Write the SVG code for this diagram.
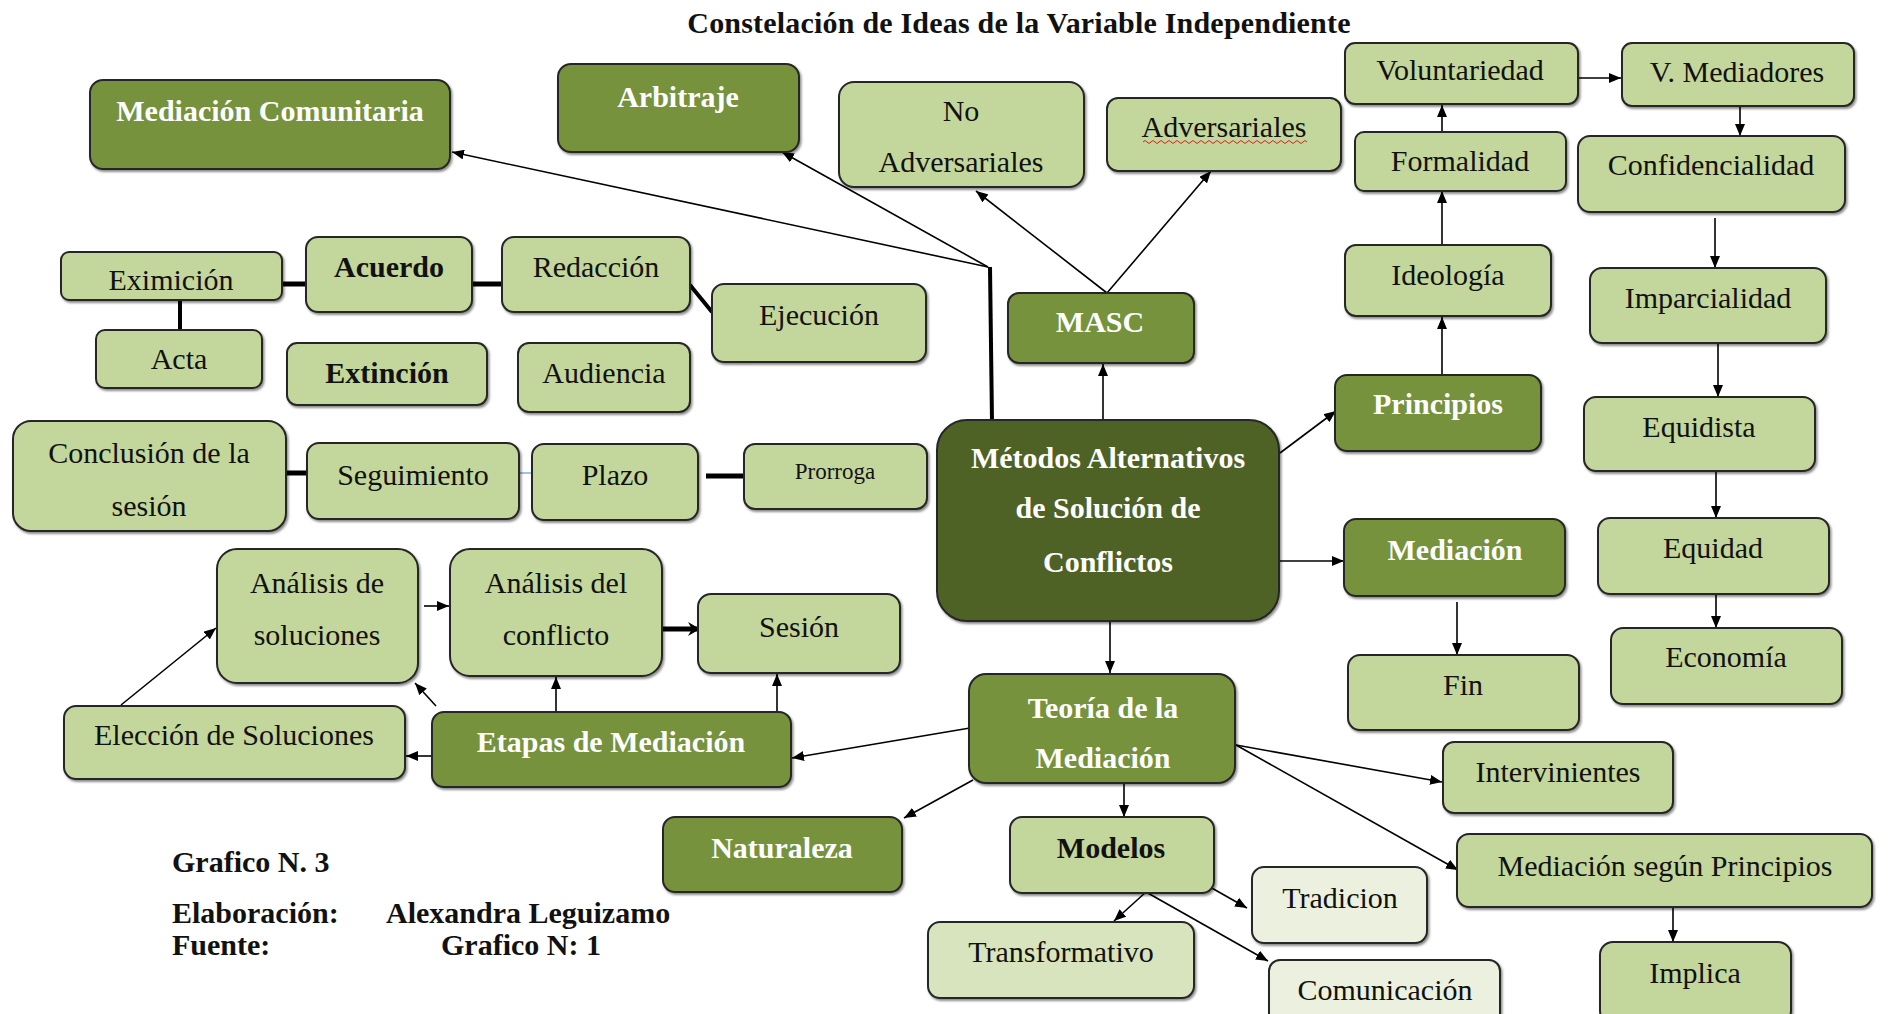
<svg xmlns="http://www.w3.org/2000/svg" width="1890" height="1014" viewBox="0 0 1890 1014">
<defs>
<style>
.b{stroke:#262626;stroke-width:2;filter:url(#sh)}
.dk{fill:#4f6228}.md{fill:#76923c}.lt{fill:#c3d69b}.l2{fill:#d7e4bd}.vl{fill:#ebf1de}
text{font-family:'Liberation Serif','Times New Roman',serif;font-size:30px;text-anchor:middle;fill:#111}
.w{fill:#ffffff;font-weight:bold}
.bd{font-weight:bold}
.ttl{font-weight:bold;font-size:30px;letter-spacing:0.2px}
.ft{font-weight:bold;font-size:30px;text-anchor:start}
.c{stroke:#000;stroke-width:1.6;fill:none}
.a{marker-end:url(#ar)}
.k{stroke:#000;stroke-width:5;fill:none}
</style>
<filter id="sh" x="-10%" y="-10%" width="125%" height="130%">
<feDropShadow dx="1.5" dy="2" stdDeviation="1.2" flood-color="#000" flood-opacity="0.45"/>
</filter>
<marker id="ar" viewBox="0 0 12 10" refX="12" refY="5" markerWidth="12" markerHeight="10" markerUnits="userSpaceOnUse" orient="auto">
<path d="M0,0 L12,5 L0,10 z" fill="#000"/>
</marker>
<marker id="ak" viewBox="0 0 12 14" refX="10" refY="7" markerWidth="12" markerHeight="14" markerUnits="userSpaceOnUse" orient="auto">
<path d="M0,0 L12,7 L0,14 L4,7 z" fill="#000"/>
</marker>
</defs>
<rect width="1890" height="1014" fill="#ffffff"/>
<text class="ttl" x="1019" y="33">Constelación de Ideas de la Variable Independiente</text>

<g id="connectors">
<line class="c a" x1="988" y1="267" x2="452" y2="152"/>
<line class="c a" x1="988" y1="267" x2="782" y2="152"/>
<line x1="990" y1="267" x2="992" y2="422" stroke="#000" stroke-width="4"/>
<line class="c a" x1="1107" y1="293" x2="976" y2="191"/>
<line class="c a" x1="1107" y1="293" x2="1211" y2="171"/>
<line class="c a" x1="1103" y1="421" x2="1103" y2="364"/>
<line class="c a" x1="1280" y1="453" x2="1336" y2="411"/>
<line class="c a" x1="1442" y1="375" x2="1442" y2="317"/>
<line class="c a" x1="1442" y1="245" x2="1442" y2="191"/>
<line class="c a" x1="1442" y1="132" x2="1442" y2="105"/>
<line class="c a" x1="1578" y1="78" x2="1621" y2="78"/>
<line class="c a" x1="1740" y1="106" x2="1740" y2="136"/>
<line class="c a" x1="1715" y1="218" x2="1715" y2="268"/>
<line class="c a" x1="1718" y1="344" x2="1718" y2="397"/>
<line class="c a" x1="1716" y1="471" x2="1716" y2="518"/>
<line class="c a" x1="1716" y1="594" x2="1716" y2="628"/>
<line class="c a" x1="1279" y1="561" x2="1344" y2="561"/>
<line class="c a" x1="1457" y1="602" x2="1457" y2="655"/>
<line class="c a" x1="1110" y1="621" x2="1110" y2="673"/>
<line class="c a" x1="1236" y1="745" x2="1442" y2="782"/>
<line class="c a" x1="1236" y1="745" x2="1458" y2="870"/>
<line class="c a" x1="1124" y1="783" x2="1124" y2="817"/>
<line class="c a" x1="973" y1="780" x2="904" y2="818"/>
<line class="c a" x1="970" y1="728" x2="792" y2="758"/>
<line class="c a" x1="1146" y1="892" x2="1114" y2="921"/>
<line class="c a" x1="1146" y1="892" x2="1268" y2="961"/>
<line class="c a" x1="1210" y1="887" x2="1247" y2="908"/>
<line class="c a" x1="1673" y1="907" x2="1673" y2="942"/>
<line class="c a" x1="432" y1="756" x2="406" y2="756"/>
<line class="c a" x1="436" y1="706" x2="415" y2="683"/>
<line class="c a" x1="556" y1="712" x2="556" y2="677"/>
<line class="c a" x1="777" y1="712" x2="777" y2="674"/>
<line class="c a" x1="121" y1="705" x2="216" y2="628"/>
<line class="c a" x1="424" y1="606" x2="449" y2="606"/>
<line x1="663" y1="629" x2="698" y2="629" stroke="#000" stroke-width="5" marker-end="url(#ak)"/>
<line class="k" x1="286" y1="473" x2="308" y2="473"/>
<line x1="519" y1="473" x2="532" y2="473" stroke="#4f81bd" stroke-width="1"/>
<line class="k" x1="706" y1="476" x2="744" y2="476"/>
<line class="k" x1="282" y1="284" x2="306" y2="284"/>
<line class="k" x1="472" y1="284" x2="502" y2="284"/>
<line x1="690" y1="285" x2="712" y2="312" stroke="#000" stroke-width="4"/>
<line x1="180" y1="300" x2="180" y2="331" stroke="#000" stroke-width="4"/>
</g>

<g id="n-medcom"><rect class="b md" x="90" y="80" width="360" height="89" rx="13"/><text class="w" x="270" y="121">Mediación Comunitaria</text></g>
<g id="n-arbitraje"><rect class="b md" x="558" y="64" width="241" height="88" rx="13"/><text class="w" x="678" y="107">Arbitraje</text></g>
<g id="n-noadv"><rect class="b lt" x="839" y="82" width="245" height="105" rx="15"/><text x="961" y="121">No</text><text x="961" y="172">Adversariales</text></g>
<g id="n-adv"><rect class="b lt" x="1107" y="98" width="234" height="73" rx="11"/><text x="1224" y="137">Adversariales</text><path d="M1143,142 q2,-3 4,0 t4,0 t4,0 t4,0 t4,0 t4,0 t4,0 t4,0 t4,0 t4,0 t4,0 t4,0 t4,0 t4,0 t4,0 t4,0 t4,0 t4,0 t4,0 t4,0 t4,0 t4,0 t4,0 t4,0 t4,0 t4,0 t4,0 t4,0 t4,0 t4,0 t4,0 t4,0 t4,0 t4,0 t4,0 t4,0 t4,0 t4,0 t4,0 t4,0 t4,0" fill="none" stroke="#e02020" stroke-width="1"/></g>
<g id="n-volun"><rect class="b lt" x="1345" y="43" width="233" height="61" rx="10"/><text x="1460" y="80">Voluntariedad</text></g>
<g id="n-vmed"><rect class="b lt" x="1622" y="43" width="232" height="63" rx="10"/><text x="1737" y="82">V. Mediadores</text></g>
<g id="n-formal"><rect class="b lt" x="1355" y="132" width="211" height="59" rx="9"/><text x="1460" y="171">Formalidad</text></g>
<g id="n-confid"><rect class="b lt" x="1578" y="136" width="267" height="76" rx="12"/><text x="1711" y="175">Confidencialidad</text></g>
<g id="n-ideol"><rect class="b lt" x="1345" y="245" width="206" height="71" rx="11"/><text x="1448" y="285">Ideología</text></g>
<g id="n-impar"><rect class="b lt" x="1590" y="268" width="236" height="75" rx="12"/><text x="1708" y="308">Imparcialidad</text></g>
<g id="n-princ"><rect class="b md" x="1335" y="375" width="206" height="76" rx="12"/><text class="w" x="1438" y="414">Principios</text></g>
<g id="n-equidista"><rect class="b lt" x="1584" y="397" width="231" height="74" rx="12"/><text x="1699" y="437">Equidista</text></g>
<g id="n-masc"><rect class="b md" x="1008" y="293" width="186" height="70" rx="11"/><text class="w" x="1100" y="332">MASC</text></g>
<g id="n-metodos"><rect class="b dk" x="937" y="420" width="342" height="201" rx="30"/><text class="w" x="1108" y="468">Métodos Alternativos</text><text class="w" x="1108" y="518">de Solución de</text><text class="w" x="1108" y="572">Conflictos</text></g>
<g id="n-mediacion"><rect class="b md" x="1344" y="519" width="221" height="77" rx="12"/><text class="w" x="1455" y="560">Mediación</text></g>
<g id="n-equidad"><rect class="b lt" x="1598" y="518" width="231" height="76" rx="12"/><text x="1713" y="558">Equidad</text></g>
<g id="n-fin"><rect class="b lt" x="1348" y="655" width="231" height="75" rx="12"/><text x="1463" y="695">Fin</text></g>
<g id="n-economia"><rect class="b lt" x="1611" y="628" width="231" height="76" rx="12"/><text x="1726" y="667">Economía</text></g>
<g id="n-teoria"><rect class="b md" x="969" y="674" width="266" height="109" rx="17"/><text class="w" x="1103" y="718">Teoría de la</text><text class="w" x="1103" y="768">Mediación</text></g>
<g id="n-interv"><rect class="b lt" x="1443" y="742" width="230" height="71" rx="11"/><text x="1558" y="782">Intervinientes</text></g>
<g id="n-msp"><rect class="b lt" x="1457" y="834" width="415" height="73" rx="12"/><text x="1665" y="876">Mediación según Principios</text></g>
<g id="n-implica"><rect class="b lt" x="1600" y="942" width="191" height="82" rx="13"/><text x="1695" y="983">Implica</text></g>
<g id="n-modelos"><rect class="b lt" x="1010" y="817" width="204" height="76" rx="12"/><text class="bd" x="1111" y="858">Modelos</text></g>
<g id="n-tradicion"><rect class="b vl" x="1252" y="867" width="175" height="76" rx="12"/><text x="1340" y="908">Tradicion</text></g>
<g id="n-transf"><rect class="b l2" x="928" y="922" width="266" height="76" rx="12"/><text x="1061" y="962">Transformativo</text></g>
<g id="n-comun"><rect class="b vl" x="1269" y="960" width="231" height="70" rx="11"/><text x="1385" y="1000">Comunicación</text></g>
<g id="n-natur"><rect class="b md" x="663" y="817" width="239" height="75" rx="12"/><text class="w" x="782" y="858">Naturaleza</text></g>
<g id="n-etapas"><rect class="b md" x="432" y="712" width="359" height="75" rx="12"/><text class="w" x="611" y="752">Etapas de Mediación</text></g>
<g id="n-eleccion"><rect class="b lt" x="64" y="706" width="341" height="73" rx="12"/><text x="234" y="745">Elección de Soluciones</text></g>
<g id="n-analsol"><rect class="b lt" x="217" y="549" width="201" height="134" rx="20"/><text x="317" y="593">Análisis de</text><text x="317" y="645">soluciones</text></g>
<g id="n-analconf"><rect class="b lt" x="450" y="549" width="212" height="127" rx="20"/><text x="556" y="593">Análisis del</text><text x="556" y="645">conflicto</text></g>
<g id="n-sesion"><rect class="b lt" x="698" y="594" width="202" height="79" rx="13"/><text x="799" y="637">Sesión</text></g>
<g id="n-conclusion"><rect class="b lt" x="13" y="421" width="273" height="110" rx="18"/><text x="149" y="463">Conclusión de la</text><text x="149" y="516">sesión</text></g>
<g id="n-seguim"><rect class="b lt" x="307" y="443" width="212" height="76" rx="12"/><text x="413" y="485">Seguimiento</text></g>
<g id="n-plazo"><rect class="b lt" x="532" y="444" width="166" height="76" rx="12"/><text x="615" y="485">Plazo</text></g>
<g id="n-prorroga"><rect class="b lt" x="744" y="444" width="183" height="65" rx="11"/><text x="835" y="479" style="font-size:23px">Prorroga</text></g>
<g id="n-eximicion"><rect class="b lt" x="61" y="252" width="221" height="48" rx="8"/><text x="171" y="290">Eximición</text></g>
<g id="n-acuerdo"><rect class="b lt" x="306" y="237" width="166" height="75" rx="12"/><text class="bd" x="389" y="277">Acuerdo</text></g>
<g id="n-redaccion"><rect class="b lt" x="502" y="237" width="188" height="75" rx="12"/><text x="596" y="277">Redacción</text></g>
<g id="n-ejecucion"><rect class="b lt" x="712" y="284" width="214" height="78" rx="12"/><text x="819" y="325">Ejecución</text></g>
<g id="n-acta"><rect class="b lt" x="96" y="330" width="166" height="58" rx="9"/><text x="179" y="369">Acta</text></g>
<g id="n-extincion"><rect class="b lt" x="287" y="343" width="200" height="62" rx="10"/><text class="bd" x="387" y="383">Extinción</text></g>
<g id="n-audiencia"><rect class="b lt" x="518" y="343" width="172" height="69" rx="11"/><text x="604" y="383">Audiencia</text></g>

<g id="footer">
<text class="ft" x="172" y="872">Grafico N. 3</text>
<text class="ft" x="172" y="923">Elaboración:</text>
<text class="ft" x="386" y="923">Alexandra Leguizamo</text>
<text class="ft" x="172" y="955">Fuente:</text>
<text class="ft" x="441" y="955">Grafico N: 1</text>
</g>
</svg>
